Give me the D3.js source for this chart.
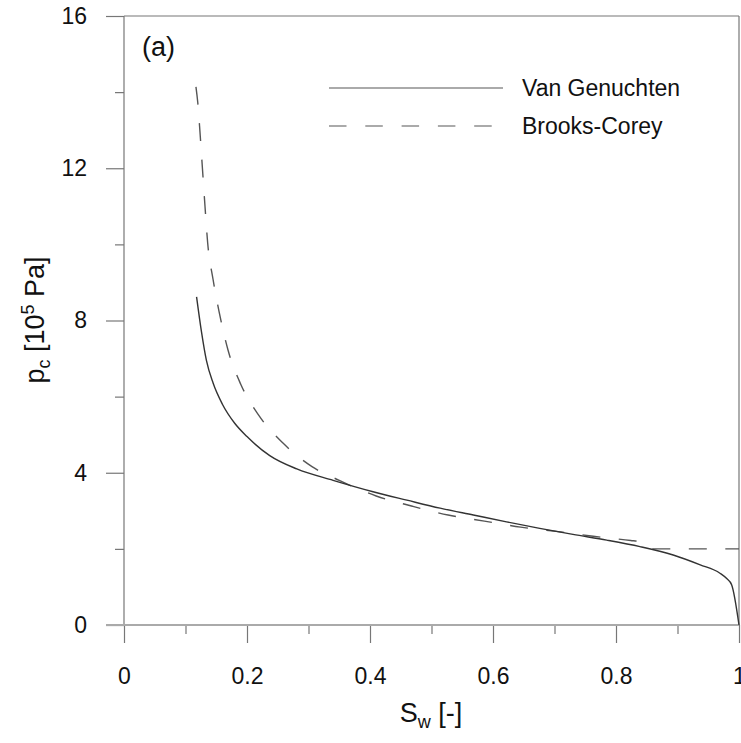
<!DOCTYPE html>
<html><head><meta charset="utf-8">
<script src="https://cdn.jsdelivr.net/npm/d3@7"></script>
<style>body{margin:0;background:#fff;} svg{display:block;} text{font-family:"Liberation Sans",Arial,sans-serif;fill:#111;}</style>
</head><body>
<svg id="c" width="741" height="743"></svg>
<script>
// ---- data ----
const vgS  = [0.118, 0.126, 0.134, 0.145, 0.160, 0.180, 0.200, 0.237, 0.281, 0.340, 0.405, 0.460, 0.514, 0.568, 0.622, 0.676, 0.730, 0.785, 0.839, 0.893, 0.937, 0.969, 0.980, 0.988, 1.000];
const vgPc = [8.62, 7.70, 6.95, 6.35, 5.80, 5.30, 4.95, 4.45, 4.10, 3.80, 3.50, 3.28, 3.07, 2.89, 2.71, 2.54, 2.38, 2.23, 2.06, 1.84, 1.58, 1.36, 1.22, 1.06, 0.00];
const bcS  = [0.117, 0.120, 0.1236, 0.1276, 0.1317, 0.136, 0.1447, 0.1545, 0.169, 0.190, 0.2195, 0.2585, 0.3057, 0.350, 0.410, 0.469, 0.527, 0.586, 0.645, 0.703, 0.763, 0.824, 0.838, 0.852, 1.000];
const bcPc = [14.14, 13.72, 12.94, 11.98, 11.00, 10.05, 9.09, 8.24, 7.23, 6.32, 5.50, 4.78, 4.16, 3.80, 3.39, 3.12, 2.89, 2.73, 2.57, 2.46, 2.33, 2.22, 2.19, 2.00, 2.00];
const xMajor = [0, 0.2, 0.4, 0.6, 0.8, 1];
const xMajorLabels = ["0", "0.2", "0.4", "0.6", "0.8", "1"];
const xMinor = [0.1, 0.3, 0.5, 0.7, 0.9];
const yMajor = [0, 4, 8, 12, 16];
const yMinor = [2, 6, 10, 14];
const seriesNames = ["Van Genuchten", "Brooks-Corey"];

// ---- layout ----
const svg = d3.select("#c");
const L = 124, R = 739, T = 16, B = 625;
const x = d3.scaleLinear().domain([0, 1]).range([L, R]);
const y = d3.scaleLinear().domain([0, 16]).range([B, T]);
const axisColor = "#777";

// frame top and right
svg.append("line").attr("x1", L).attr("x2", R).attr("y1", T).attr("y2", T).attr("stroke", axisColor).attr("stroke-width", 1.2);
svg.append("line").attr("x1", R).attr("x2", R).attr("y1", T).attr("y2", B).attr("stroke", axisColor).attr("stroke-width", 1.2);

function styleAxis(g) {
  g.select(".domain").remove();
  g.selectAll(".tick line").attr("stroke", axisColor).attr("stroke-width", 1.2);
  g.selectAll("text").attr("font-size", 23).attr("fill", "#111").attr("font-family", '"Liberation Sans",Arial,sans-serif');
}
// y axis
svg.append("g").attr("transform", `translate(${L},0)`)
  .call(d3.axisLeft(y).tickValues(yMajor).tickSize(18).tickPadding(19).tickFormat(d3.format("d")))
  .call(styleAxis);
svg.append("g").attr("transform", `translate(${L},0)`)
  .call(d3.axisLeft(y).tickValues(yMinor).tickSize(9).tickFormat(""))
  .call(styleAxis);
// x axis
svg.append("g").attr("transform", `translate(0,${B})`)
  .call(d3.axisBottom(x).tickValues(xMajor).tickSize(18).tickPadding(25).tickFormat((d, i) => xMajorLabels[i]))
  .call(styleAxis);
svg.append("g").attr("transform", `translate(0,${B})`)
  .call(d3.axisBottom(x).tickValues(xMinor).tickSize(9).tickFormat(""))
  .call(styleAxis);
// axis lines
svg.append("line").attr("x1", L).attr("x2", L).attr("y1", T).attr("y2", B).attr("stroke", axisColor).attr("stroke-width", 1.2);
svg.append("line").attr("x1", L - 18).attr("x2", R).attr("y1", B).attr("y2", B).attr("stroke", "#aaa").attr("stroke-width", 2);

// curves
const line = d3.line().x(d => x(d[0])).y(d => y(d[1])).curve(d3.curveMonotoneX);
const vg = vgS.map((s, i) => [s, vgPc[i]]);
const bc = bcS.map((s, i) => [s, bcPc[i]]);
svg.append("path").attr("d", line(bc)).attr("fill", "none").attr("stroke", "#555").attr("stroke-width", 1.4).attr("stroke-dasharray", "18,18.5");
svg.append("path").attr("d", line(vg)).attr("fill", "none").attr("stroke", "#333").attr("stroke-width", 1.4);

// legend
const lg = svg.append("g");
lg.append("line").attr("x1", 329).attr("x2", 503).attr("y1", 88).attr("y2", 88).attr("stroke", "#aaa").attr("stroke-width", 2);
lg.append("line").attr("x1", 329).attr("x2", 494).attr("y1", 126).attr("y2", 126).attr("stroke", "#aaa").attr("stroke-width", 2).attr("stroke-dasharray", "17.5,18.8");
lg.append("text").attr("x", 522).attr("y", 96).attr("font-size", 23).text(seriesNames[0]);
lg.append("text").attr("x", 522).attr("y", 134).attr("font-size", 23).text(seriesNames[1]);

// panel label
svg.append("text").attr("x", 142).attr("y", 56).attr("font-size", 27).text("(a)");

// x title
const xt = svg.append("text").attr("x", 431).attr("y", 722).attr("text-anchor", "middle").attr("font-size", 27);
xt.append("tspan").text("S");
xt.append("tspan").attr("font-size", 18).attr("dy", 6).text("w");
xt.append("tspan").attr("dy", -6).text(" [-]");

// y title
const yt = svg.append("text").attr("transform", "translate(44,320) rotate(-90)").attr("text-anchor", "middle").attr("font-size", 27);
yt.append("tspan").text("p");
yt.append("tspan").attr("font-size", 18).attr("dy", 6).text("c");
yt.append("tspan").attr("dy", -6).text(" [10");
yt.append("tspan").attr("font-size", 18).attr("dy", -10).text("5");
yt.append("tspan").attr("dy", 10).text(" Pa]");
</script>
</body></html>
